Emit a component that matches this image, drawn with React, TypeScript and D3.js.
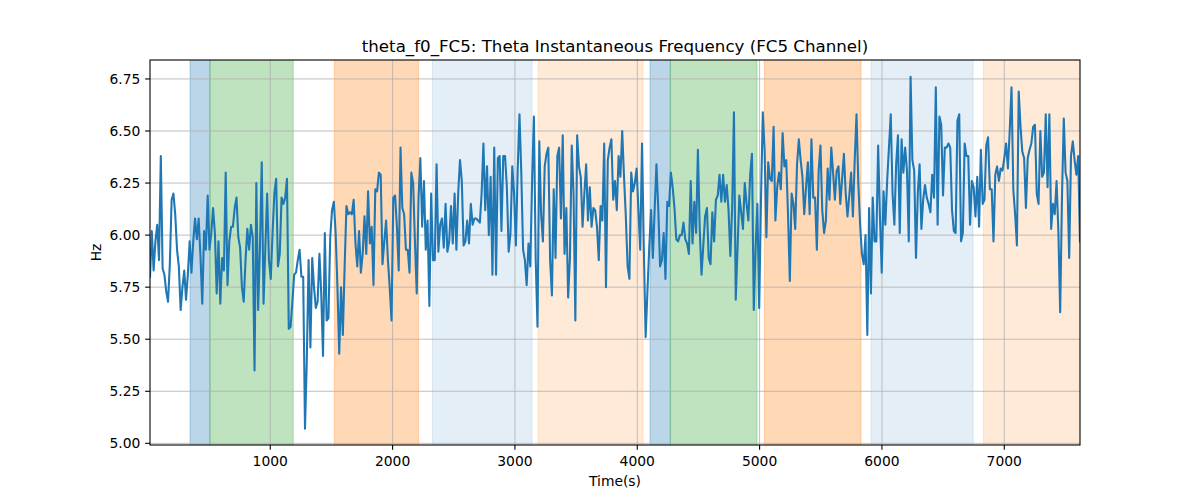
import React from 'react';
import * as d3 from 'd3';

const T_START = 17;
const T_END = 7619;

const hzValues: number[] = [
  // 0 - ~800 s
  5.80, 6.02, 5.83, 5.97, 6.05, 5.88, 6.38, 5.84, 5.81, 5.73, 5.68, 5.86, 6.17, 6.20, 6.10, 5.93, 5.85, 5.64, 5.75, 5.83,
  5.69, 5.81, 5.97, 5.82, 5.97, 6.08, 5.98, 6.08, 5.90, 5.67, 6.02, 5.93, 6.19, 5.93, 6.01, 6.13, 6.01, 5.72, 5.97, 5.67,
  5.89, 5.83, 6.30, 5.76, 5.97, 6.04, 6.04, 6.13, 6.18, 5.99,
  // ~800 - 1560
  5.94, 5.75, 5.68, 5.88, 6.03, 5.93, 6.05, 5.99, 5.35, 6.25, 5.64, 5.94, 6.35, 5.67, 5.94, 6.20, 5.88, 5.79, 6.01, 6.20,
  6.27, 5.85, 5.91, 6.18, 6.15, 6.18, 6.27, 5.55, 5.56, 5.68, 5.81, 5.82, 5.88, 5.93, 5.80, 5.80, 5.07, 5.40, 5.88, 5.46,
  5.89, 5.75, 5.65, 5.68, 5.91, 5.72, 5.42, 6.01, 5.59, 5.60, 5.99, 6.12, 6.16,
  // ~1560 - 2320
  6.01, 5.75, 5.43, 5.75, 5.52, 5.85, 6.14, 6.10, 6.11, 6.10, 6.17, 5.96, 5.85, 6.02, 5.82, 5.91, 6.09, 5.91, 6.21, 5.96,
  6.04, 5.76, 6.22, 6.21, 6.30, 6.29, 5.86, 5.97, 6.07, 5.88, 5.75, 5.59, 6.18, 6.19, 6.04, 5.83, 6.42, 6.13, 6.10, 5.93,
  5.93, 5.82, 6.30, 6.25, 5.97, 5.72, 6.18, 6.37, 6.04, 6.26, 5.93, 6.07, 5.66, 6.20,
  // ~2320 - 3080
  5.88, 5.88, 6.34, 5.92, 6.05, 6.08, 5.94, 6.15, 5.92, 5.97, 6.14, 5.96, 6.20, 5.93, 6.20, 6.36, 6.26, 5.95, 5.97, 6.07,
  5.96, 6.15, 6.05, 6.08, 6.08, 6.07, 6.06, 6.20, 6.44, 6.12, 6.33, 6.00, 6.28, 5.81, 6.42, 5.81, 6.37, 6.38, 6.02, 6.38,
  6.38, 6.23, 5.92, 6.01, 6.33, 6.20, 5.95, 6.31, 6.58, 6.30, 5.93, 5.88,
  // ~3080 - 3840
  5.76, 5.96, 5.85, 6.26, 6.57, 5.88, 5.56, 6.45, 6.10, 5.97, 6.33, 6.39, 6.42, 5.88, 5.71, 6.22, 5.89, 6.38, 6.42, 6.08,
  6.48, 5.91, 6.13, 5.70, 5.89, 6.43, 6.20, 5.59, 6.48, 6.33, 6.28, 6.04, 6.20, 6.34, 6.07, 6.23, 6.04, 6.13, 6.12, 6.04,
  5.88, 6.14, 6.07, 6.44, 5.75, 6.36, 6.42, 6.46, 6.17, 6.26, 6.12, 6.38,
  // ~3840 - 4600
  6.28, 6.50, 6.28, 6.09, 5.85, 5.79, 6.30, 6.21, 6.25, 6.32, 6.12, 5.93, 6.44, 5.93, 5.51, 5.73, 5.94, 6.12, 5.89, 6.12,
  6.34, 6.13, 5.85, 5.88, 6.01, 5.79, 6.16, 6.14, 6.30, 6.23, 6.13, 5.98, 5.97, 6.00, 6.00, 6.06, 5.98, 5.96, 5.91, 6.26,
  5.96, 6.16, 6.01, 6.41, 6.03, 5.81, 5.95, 6.09, 6.13, 5.89,
  // ~4600 - 5360
  5.86, 6.11, 5.97, 6.17, 6.19, 6.29, 6.16, 6.29, 6.16, 6.24, 6.12, 5.90, 6.13, 6.59, 5.69, 5.94, 6.19, 6.11, 6.03, 6.25,
  6.15, 6.07, 6.29, 6.39, 5.64, 5.94, 6.15, 5.65, 6.17, 6.59, 6.41, 5.99, 6.35, 6.27, 6.26, 6.52, 6.07, 6.23, 6.30, 6.22,
  6.49, 6.33, 6.36, 6.10, 5.78, 6.20, 6.15, 6.03, 6.34, 6.46, 6.36,
  // ~5360 - 6120
  6.28, 6.10, 6.23, 6.35, 6.10, 6.46, 6.18, 6.18, 5.93, 6.31, 6.43, 6.12, 6.01, 6.07, 6.32, 6.17, 6.42, 6.30, 6.17, 6.31,
  6.33, 6.15, 6.27, 6.39, 6.20, 6.09, 6.19, 6.30, 6.09, 6.36, 6.58, 6.25, 6.05, 5.91, 5.86, 6.00, 5.52, 6.13, 5.72, 6.18,
  5.97, 5.97, 6.43, 6.09, 5.82, 6.21, 6.05, 6.26, 6.42, 6.58, 6.20, 6.05,
  // ~6120 - 6880
  6.34, 6.48, 6.01, 6.46, 6.30, 6.42, 6.31, 5.97, 6.76, 6.36, 6.31, 5.89, 6.20, 6.34, 6.03, 6.17, 6.24, 6.18, 6.15, 6.11,
  6.29, 6.18, 6.71, 6.05, 6.57, 6.53, 6.19, 6.42, 6.42, 6.44, 6.42, 6.12, 6.02, 6.01, 6.55, 6.58, 5.97, 6.01, 6.44, 6.38,
  6.38, 6.05, 6.26, 6.23, 6.09, 6.28, 6.04, 6.41, 6.15, 6.17, 6.43, 6.47,
  // ~6880 - 7620
  6.22, 6.22, 5.97, 6.29, 6.33, 6.26, 6.32, 6.31, 6.37, 6.44, 6.32, 6.50, 6.71, 6.22, 6.10, 5.95, 6.69, 6.52, 6.40, 6.37,
  6.13, 6.37, 6.41, 6.44, 6.52, 6.53, 6.20, 6.15, 6.50, 6.28, 6.30, 6.58, 6.23, 6.58, 6.03, 6.15, 6.10, 6.26, 6.02, 5.63,
  6.18, 6.56, 6.30, 6.26, 5.89, 6.38, 6.45, 6.36, 6.29, 6.38, 5.97,
];

const xTicks = [1000, 2000, 3000, 4000, 5000, 6000, 7000];
const yTicks = [5.0, 5.25, 5.5, 5.75, 6.0, 6.25, 6.5, 6.75];

const bandStarts = [344, 507, 1524, 2325, 3189, 4104, 4270, 5039, 5911, 6829];
const bandEnds = [507, 1188, 2213, 3140, 4047, 4270, 4979, 5829, 6745, 7640];
const bandKinds = ['blue', 'green', 'orange', 'lightblue', 'lightorange', 'blue', 'green', 'orange', 'lightblue', 'lightorange'];

const bandStyle: Record<string, { fill: string; opacity: number }> = {
  blue: { fill: '#1f77b4', opacity: 0.3 },
  green: { fill: '#2ca02c', opacity: 0.3 },
  orange: { fill: '#ff7f0e', opacity: 0.3 },
  lightblue: { fill: '#1f77b4', opacity: 0.12 },
  lightorange: { fill: '#ff7f0e', opacity: 0.16 },
};

const TITLE = 'theta_f0_FC5: Theta Instantaneous Frequency (FC5 Channel)';

export default function App() {
  const W = 1200, H = 500;
  const L = 150, R = 1080, T = 60, B = 445;
  const n = hzValues.length;
  const step = (T_END - T_START) / (n - 1);
  const times = d3.range(n).map((i) => T_START + i * step);

  const x = d3.scaleLinear().domain([T_START, T_END]).range([L, R]);
  const y = d3.scaleLinear().domain([4.992, 6.841]).range([B, T]);

  const line = d3
    .line<number>()
    .x((_, i) => x(times[i]))
    .y((d) => y(d));

  const font = 'DejaVu Sans, sans-serif';
  const tickLen = 4.86;

  return (
    <svg width={W} height={H} style={{ position: 'absolute', left: 0, top: 0, background: '#fff' }} fontFamily={font}>
      <defs>
        <clipPath id="plotclip">
          <rect x={L} y={T} width={R - L} height={B - T} />
        </clipPath>
      </defs>
      <rect x={0} y={0} width={W} height={H} fill="#fff" />
      <g clipPath="url(#plotclip)">
        {bandStarts.map((s, i) => {
          const st = bandStyle[bandKinds[i]];
          return (
            <rect
              key={'b' + i}
              x={x(s)}
              y={T - 2}
              width={x(bandEnds[i]) - x(s)}
              height={B - T + 4}
              fill={st.fill}
              fillOpacity={st.opacity}
              stroke={st.fill}
              strokeOpacity={st.opacity}
              strokeWidth={1}
            />
          );
        })}
        {xTicks.map((t) => (
          <line key={'gx' + t} x1={x(t)} x2={x(t)} y1={T} y2={B} stroke="#b0b0b0" strokeWidth={0.8} />
        ))}
        {yTicks.map((t) => (
          <line key={'gy' + t} x1={L} x2={R} y1={y(t)} y2={y(t)} stroke="#b0b0b0" strokeWidth={0.8} />
        ))}
        <path d={line(hzValues) || ''} fill="none" stroke="#1f77b4" strokeWidth={2.08} strokeLinejoin="round" strokeLinecap="square" />
      </g>
      <rect x={L} y={T} width={R - L} height={B - T} fill="none" stroke="#000" strokeWidth={1.1} />
      {xTicks.map((t) => (
        <g key={'tx' + t}>
          <line x1={x(t)} x2={x(t)} y1={B} y2={B + tickLen} stroke="#000" strokeWidth={1.1} />
          <text x={x(t)} y={B + 21} fontSize={13.89} textAnchor="middle" fill="#000">
            {t}
          </text>
        </g>
      ))}
      {yTicks.map((t) => (
        <g key={'ty' + t}>
          <line x1={L - tickLen} x2={L} y1={y(t)} y2={y(t)} stroke="#000" strokeWidth={1.1} />
          <text x={L - 9.7} y={y(t) + 5} fontSize={13.89} textAnchor="end" fill="#000">
            {t.toFixed(2)}
          </text>
        </g>
      ))}
      <text x={(L + R) / 2} y={486} fontSize={13.89} textAnchor="middle" fill="#000">
        Time(s)
      </text>
      <text transform={`translate(101, ${(T + B) / 2}) rotate(-90)`} fontSize={13.89} textAnchor="middle" fill="#000">
        Hz
      </text>
      <text x={(L + R) / 2} y={52} fontSize={16.67} textAnchor="middle" fill="#000">
        {TITLE}
      </text>
    </svg>
  );
}
